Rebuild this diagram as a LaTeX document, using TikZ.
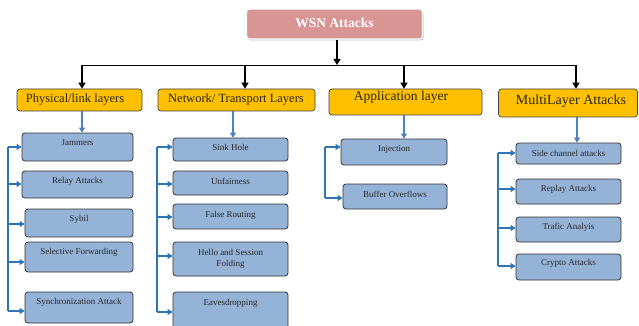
\documentclass[tikz,border=0pt]{standalone}
\usepackage{fontspec}
\setmainfont{Liberation Serif}
\usetikzlibrary{arrows.meta,shadows}
\definecolor{wsnfill}{HTML}{D99594}
\definecolor{layfill}{HTML}{FFC000}
\definecolor{chfill}{HTML}{95B3D7}
\definecolor{blline}{HTML}{2E75B6}
\definecolor{blarr}{HTML}{4F81BD}
\definecolor{txt}{HTML}{262626}
\tikzset{
  wsnbox/.style={draw=white, line width=1.2pt, fill=wsnfill, rounded corners=3pt,
    drop shadow={shadow xshift=1pt, shadow yshift=-1.5pt, opacity=0.45}},
  laybox/.style={draw=black!75, line width=0.7pt, fill=layfill, rounded corners=3pt},
  chbox/.style={draw=black!80, line width=0.8pt, fill=chfill, rounded corners=3pt},
  laytext/.style={inner sep=0pt, text=txt},
  chtext/.style={inner sep=0pt, text=txt, font=\fontsize{9}{10.5}\selectfont, align=center},
  blkarrow/.style={black, line width=1.4pt, -{Triangle[length=6pt,width=7pt]}},
  busline/.style={black, line width=0.9pt},
  downarrow/.style={blarr, line width=1.2pt, -{Triangle[length=5pt,width=6pt]}},
  brline/.style={blline, line width=1.1pt},
  brarrow/.style={blline, line width=1.1pt, -{Triangle[length=5pt,width=6pt]}},
}
\newcommand\chnode[7]{%
  \node[chbox, minimum width={(#4-#2)*1pt}, minimum height={(#5-#3)*1pt}, inner sep=0pt]
    (#1) at ({(#2+#4)/2},{(#3+#5)/2}) {};
  \node[chtext] (#1t) at ({(#2+#4)/2},#6) {#7};
}
\begin{document}
\begin{tikzpicture}[x=1pt,y=-1pt]
\useasboundingbox (0,0) rectangle (639,326);
\clip (0,0) rectangle (639,326);
\fill[white] (0,0) rectangle (639,326);

% top
\node[wsnbox, minimum width=176pt, minimum height=30pt, inner sep=0pt] (wsn) at (334.5,24) {};
\node[laytext, text=white, font=\fontsize{13.5}{15}\selectfont\bfseries] (wsnt) at (334.5,23) {WSN Attacks};

% layer boxes
\node[laybox, minimum width=125pt, minimum height=22pt, inner sep=0pt] (phy) at (79.5,100) {};
\node[laytext, font=\fontsize{12.5}{14}\selectfont] (phyt) at (75,100) {Physical/link layers};
\node[laybox, minimum width=157pt, minimum height=22pt, inner sep=0pt] (net) at (236.5,100) {};
\node[laytext, font=\fontsize{12.5}{14}\selectfont] (nett) at (236,100) {Network/ Transport Layers};
\node[laybox, minimum width=153pt, minimum height=26pt, inner sep=0pt] (app) at (405.5,102) {};
\node[laytext, font=\fontsize{13.5}{15}\selectfont] (appt) at (401,97) {Application layer};
\node[laybox, minimum width=139pt, minimum height=28pt, inner sep=0pt] (mul) at (568,103) {};
\node[laytext, font=\fontsize{14}{16}\selectfont] (mult) at (571,101) {MultiLayer Attacks};

% top connectors
\coordinate (bus) at (337,65);
\coordinate (b1) at (82,65);
\coordinate (b2) at (245,65);
\coordinate (b3) at (404,65);
\coordinate (b4) at (576,65);
\draw[blkarrow] (wsn.south -| bus) -- (bus);
\draw[busline] (b1) -- (b4);
\draw[blkarrow] (b1) -- (b1 |- phy.north);
\draw[blkarrow] (b2) -- (b2 |- net.north);
\draw[blkarrow] (b3) -- (b3 |- app.north);
\draw[blkarrow] (b4) -- (b4 |- mul.north);

% Physical children
\chnode{jam}{22}{133}{133}{161}{143}{Jammers}
\chnode{rel}{22}{171}{133}{198}{181}{Relay Attacks}
\chnode{syb}{25}{209}{133}{237}{219}{Sybil}
\chnode{sel}{25}{242}{133}{272}{252}{Selective Forwarding}
\chnode{syn}{25}{292}{133}{323}{302}{Synchronization Attack}
\coordinate (p0) at (82,112);
\draw[downarrow] (phy.south -| p0) -- (jam.north -| p0);
\coordinate (p1) at (8,147);
\coordinate (p2) at (8,184);
\coordinate (p3) at (8,224);
\coordinate (p4) at (8,262);
\coordinate (p5) at (8,311);
\draw[brline] (p1) -- (p5);
\draw[brarrow] (p1) -- (p1 -| jam.west);
\draw[brarrow] (p2) -- (p2 -| rel.west);
\draw[brarrow] (p3) -- (p3 -| syb.west);
\draw[brarrow] (p4) -- (p4 -| sel.west);
\draw[brarrow] (p5) -- (p5 -| syn.west);

% Network children
\chnode{sin}{173}{138}{288}{161}{147}{Sink Hole}
\chnode{unf}{173}{171}{288}{195}{181}{Unfairness}
\chnode{fal}{173}{204}{288}{229}{215}{False Routing}
\chnode{hel}{173}{242}{288}{276}{259}{Hello and Session\\Folding}
\chnode{eav}{173}{292}{288}{340}{303}{Eavesdropping}
\coordinate (n0) at (233,112);
\draw[downarrow] (net.south -| n0) -- (sin.north -| n0);
\coordinate (n1) at (157,147);
\coordinate (n2) at (157,184);
\coordinate (n3) at (157,217);
\coordinate (n4) at (157,256);
\coordinate (n5) at (157,312);
\draw[brline] (n1) -- (n5);
\draw[brarrow] (n1) -- (n1 -| sin.west);
\draw[brarrow] (n2) -- (n2 -| unf.west);
\draw[brarrow] (n3) -- (n3 -| fal.west);
\draw[brarrow] (n4) -- (n4 -| hel.west);
\draw[brarrow] (n5) -- (n5 -| eav.west);

% Application children
\chnode{inj}{341}{139}{447}{165}{149}{Injection}
\chnode{buf}{343}{184}{447}{209}{194}{Buffer Overflows}
\coordinate (a0) at (404,115);
\draw[downarrow] (app.south -| a0) -- (inj.north -| a0);
\coordinate (a1) at (325,147);
\coordinate (a2) at (325,198);
\draw[brline] (a1) -- (a2);
\draw[brarrow] (a1) -- (a1 -| inj.west);
\draw[brarrow] (a2) -- (a2 -| buf.west);

% MultiLayer children
\chnode{sid}{516}{143}{621}{164}{153}{Side channel attacks}
\chnode{rep}{516}{179}{621}{204}{189}{Replay Attacks}
\chnode{tra}{516}{217}{621}{242}{227}{Trafic Analyis}
\chnode{cry}{516}{254}{621}{280}{263}{Crypto Attacks}
\coordinate (m0) at (577,117);
\draw[downarrow] (mul.south -| m0) -- (sid.north -| m0);
\coordinate (m1) at (498,153);
\coordinate (m2) at (498,189);
\coordinate (m3) at (498,228);
\coordinate (m4) at (498,266);
\draw[brline] (m1) -- (m4);
\draw[brarrow] (m1) -- (m1 -| sid.west);
\draw[brarrow] (m2) -- (m2 -| rep.west);
\draw[brarrow] (m3) -- (m3 -| tra.west);
\draw[brarrow] (m4) -- (m4 -| cry.west);
\end{tikzpicture}
\end{document}
